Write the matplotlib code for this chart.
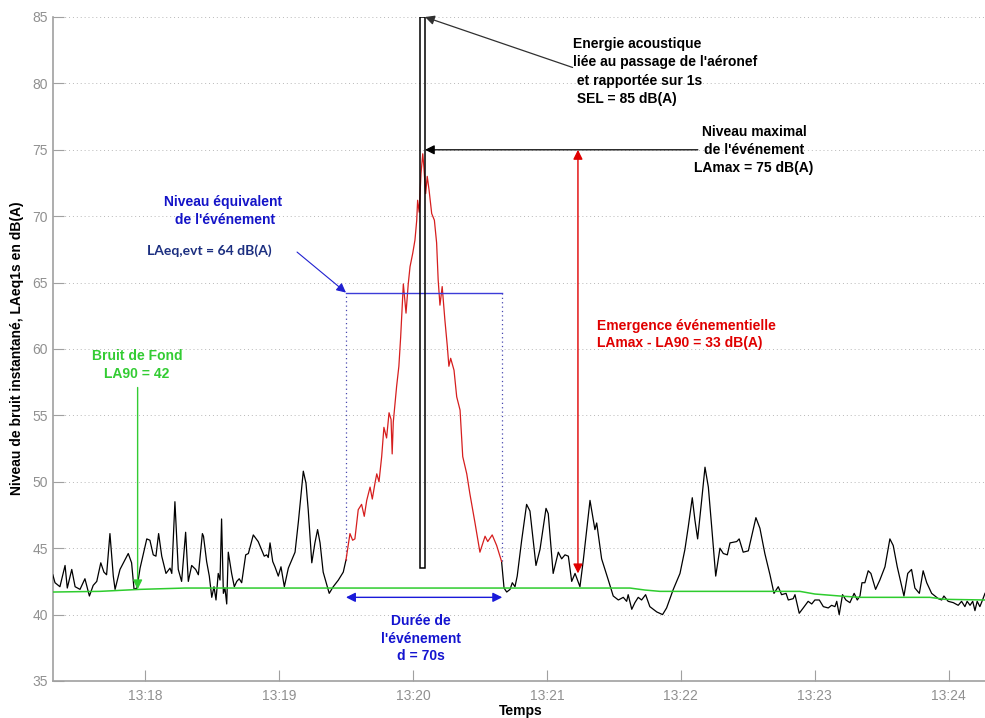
import matplotlib
matplotlib.use("Agg")
import matplotlib.pyplot as plt
from matplotlib.patches import Rectangle

# ---- DATA (time in s after 13:17:00, level in dB(A)) ----
t_pre = [18.7, 19.7, 21.9, 24.2, 25.2, 27.2, 28.7, 30.9, 33.1, 35.1, 36.8, 38.4, 40.2, 41.6,
         42.8, 44.3, 45.8, 46.6, 48.8, 52.5, 54.0, 55.1, 56.4, 57.8, 60.8, 62.2, 63.7, 64.9,
         66.1, 67.5, 69.4, 71.2, 72.0, 73.4, 74.9, 76.4, 78.2, 79.4, 80.9, 82.7, 83.9, 85.7,
         86.2, 87.6, 88.8, 89.9, 90.9, 91.8, 92.8, 93.6, 94.3, 95.1, 95.8, 96.6, 97.3, 98.8,
         100.0, 101.1, 102.2, 103.3, 105.1, 106.3, 108.5, 110.7, 113.4, 114.5, 115.2, 116.0,
         117.2, 118.2, 119.7, 120.9, 122.4, 124.2, 125.7, 127.2, 128.7, 130.9, 132.1, 133.1,
         134.7, 136.1, 137.3, 138.4, 139.8, 142.5, 144.3, 146.6, 148.8, 150.0]
la_pre = [43.0, 42.4, 42.1, 43.7, 42.0, 43.4, 42.1, 41.9, 42.7, 41.4, 42.2, 42.5, 43.9, 43.2,
          43.0, 46.1, 42.9, 41.9, 43.4, 44.6, 43.9, 41.9, 42.0, 43.5, 45.7, 45.6, 44.5, 44.4,
          46.1, 44.4, 43.1, 43.5, 43.1, 48.5, 43.4, 42.5, 46.2, 42.5, 43.7, 43.4, 43.0, 46.1,
          45.9, 44.0, 42.9, 41.3, 42.1, 41.1, 43.1, 42.6, 47.2, 41.6, 42.0, 40.8, 44.7, 43.1,
          42.1, 42.5, 42.7, 42.4, 44.5, 44.6, 46.0, 45.5, 44.4, 44.5, 44.3, 45.4,
          44.0, 43.6, 42.9, 43.6, 42.1, 43.5, 44.1, 44.7, 47.0, 50.8, 49.9, 47.9,
          43.9, 45.4, 46.4, 45.4, 43.2, 41.6, 42.1, 42.6, 43.2, 44.1]

t_evt = [150.0, 151.8, 153.0, 154.0, 155.5, 157.0, 158.2, 159.3, 160.8, 161.8, 163.0, 163.8,
         164.8, 166.0, 167.0, 168.2, 169.3, 170.2, 170.7, 171.2, 172.7, 173.7, 174.5, 175.7,
         176.9, 177.9, 178.7, 179.9, 180.9, 181.7, 182.1, 182.8, 183.6, 184.4, 184.9, 185.7,
         186.4, 187.2, 188.4, 189.6, 190.6, 191.3, 192.1, 193.1, 194.3, 195.4, 196.1, 196.9,
         198.4, 199.6, 201.1, 202.3, 204.1, 205.5, 207.8, 210.0, 212.3, 213.5, 215.5, 217.5,
         219.7]
la_evt = [44.1, 46.1, 45.6, 45.7, 47.9, 48.3, 47.4, 48.6, 49.6, 48.7, 49.9, 50.6,
          50.0, 51.9, 54.1, 53.3, 55.2, 54.7, 52.1, 54.5, 57.2, 58.7, 60.9, 64.9,
          62.7, 64.9, 66.2, 67.2, 68.2, 69.7, 71.2, 70.3, 73.2, 74.7, 73.7, 71.7,
          73.0, 72.0, 70.2, 69.7, 68.0, 65.2, 63.3, 64.7, 62.2, 60.2, 58.7, 59.3,
          58.4, 56.4, 55.4, 51.9, 50.6, 49.1, 46.9, 44.7, 45.9, 45.5, 46.0, 45.2,
          44.0]

t_post = [219.7, 220.8, 222.0, 223.5, 224.5, 225.7, 226.7, 228.7, 230.9, 232.4, 235.1, 236.9,
          239.6, 240.6, 242.8, 245.1, 246.6, 248.1, 249.6, 251.1, 252.6, 254.8, 256.3, 259.3,
          261.5, 262.3, 264.5, 267.5, 269.7, 272.0, 274.2, 275.7, 276.4, 278.0, 279.4, 280.9,
          282.4, 284.2, 286.1, 289.2, 291.8, 293.6, 296.6, 299.6, 301.8, 303.3, 305.1, 306.3,
          307.5, 309.3, 310.8, 312.3, 313.8, 315.6, 317.5, 319.0, 320.8, 322.0, 325.0, 326.1,
          327.9, 330.2, 333.6, 335.4, 337.6, 339.9, 341.7, 343.6, 345.1, 347.1, 348.1, 350.3,
          351.1, 353.0, 354.8, 357.0, 358.6, 360.0, 362.0, 363.8, 366.0, 367.5, 369.0, 369.8,
          370.9, 372.4, 373.9, 375.7, 377.6, 379.0, 380.2, 381.1, 382.4, 383.9, 385.1, 387.2,
          389.1, 391.4, 393.6, 395.1, 396.9, 399.9, 401.6, 403.3, 404.8, 406.8, 408.5, 410.1,
          412.3, 415.3, 416.8, 417.8, 419.7, 422.0, 424.2, 425.7, 427.2, 428.2, 429.5, 430.7,
          431.7, 432.7, 433.9, 435.1, 436.2]
la_post = [44.0, 42.0, 41.7, 41.9, 42.4, 42.1, 42.9, 45.6, 48.3, 47.8, 43.7, 44.9,
           48.0, 47.6, 43.1, 44.7, 44.2, 44.5, 44.4, 42.5, 43.1, 42.1, 44.1, 48.6,
           46.4, 46.9, 44.2, 42.6, 41.4, 41.1, 41.3, 41.0, 41.5, 40.4, 40.9, 41.3,
           41.1, 41.5, 40.6, 40.2, 40.0, 40.5, 41.9, 43.1, 44.9, 46.6, 48.8, 47.1,
           45.7, 48.6, 51.1, 49.6, 46.6, 42.9, 45.0, 44.6, 44.5, 45.4, 45.5, 45.7,
           44.7, 44.8, 47.3, 46.5, 44.6, 43.0, 41.6, 42.1, 41.5, 41.6, 41.1, 41.2,
           41.5, 40.1, 40.5, 41.0, 40.8, 41.1, 41.1, 40.6, 40.5, 40.7, 40.6, 41.0,
           40.0, 41.5, 41.1, 40.9, 41.6, 41.1, 41.4, 42.4, 42.4, 43.3, 43.1, 41.9,
           42.6, 43.6, 45.7, 45.2, 43.6, 41.4, 43.1, 43.4, 42.0, 41.6, 43.3, 42.4,
           41.6, 41.2, 41.1, 41.4, 41.0, 40.9, 40.7, 41.0, 40.6, 41.0, 40.7, 41.0,
           40.3, 41.0, 40.6, 41.1, 41.6]

t_la90 = [18.8, 39.8, 57.8, 77.9, 277.2, 283.9, 290.6, 353.3, 360.0, 371.2, 380.2, 411.5, 418.2, 436.2]
la90 = [41.7, 41.75, 41.9, 42.0, 42.0, 41.85, 41.75, 41.75, 41.55, 41.4, 41.3, 41.3, 41.15, 41.1]

evt_start, evt_end = 150.0, 220.0
laeq_evt = 64.2
lamax = 75.0
sel = 85.0
t_sel = 183.3          # start of the 1 s SEL bar
sel_bottom = 43.5

xticks = [60, 120, 180, 240, 300, 360, 420]
xtick_labels = ["13:18", "13:19", "13:20", "13:21", "13:22", "13:23", "13:24"]
yticks = [35, 40, 45, 50, 55, 60, 65, 70, 75, 80, 85]

# ---- PLOT ----
BOLD = ["Liberation Sans", "DejaVu Sans"]
NARROW = ["Liberation Sans Narrow", "Liberation Sans", "DejaVu Sans"]

fig = plt.figure(figsize=(9.85, 7.18), dpi=100)
ax = fig.add_axes([53 / 985, 37 / 718, 932 / 985, 664 / 718])

ax.set_xlim(18.8, 436.2)
ax.set_ylim(35, 85)

for v in yticks[1:]:
    ax.axhline(v, color="#b8b8b8", lw=0.7, ls=(0, (1, 3)), zorder=0)

ax.plot(t_pre, la_pre, color="black", lw=0.9, zorder=3)
ax.plot(t_post, la_post, color="black", lw=0.9, zorder=3)
ax.plot(t_evt, la_evt, color="#d61e1e", lw=0.9, zorder=3)
ax.plot(t_la90, la90, color="#2ecc2e", lw=1.1, zorder=4)

# LAeq of the event and its limits
ax.plot([evt_start, evt_end], [laeq_evt, laeq_evt], color="#3c3cd8", lw=1.0, zorder=4)
ax.plot([evt_start, evt_start], [la_evt[0], laeq_evt], color="#4848b0", lw=0.9,
        ls=(0, (1, 2.5)), zorder=2)
ax.plot([evt_end, evt_end], [la_evt[-1], laeq_evt], color="#4848b0", lw=0.9,
        ls=(0, (1, 2.5)), zorder=2)

# SEL bar (1 s)
ax.add_patch(Rectangle((t_sel, sel_bottom), 2.0, sel - sel_bottom, fill=False,
                       edgecolor="black", lw=1.1, zorder=5))


def arrow(tail, tip, color, style="-|>", lw=0.9, ms=14):
    ax.annotate("", xy=tip, xytext=tail,
                arrowprops=dict(arrowstyle=style, color=color, lw=lw, mutation_scale=ms,
                                shrinkA=0, shrinkB=0), zorder=6)


# SEL
ax.text(251.7, 80.9, "Energie acoustique\nliée au passage de l'aéronef\n et rapportée sur 1s\n SEL = 85 dB(A)",
        ha="left", va="center", fontsize=10, fontweight="bold", family=BOLD,
        linespacing=1.38, color="black")
arrow((251.5, 81.2), (185.4, 85.0), "#303030")

# LAmax
ax.text(332.7, 75.0, "Niveau maximal\nde l'événement\nLAmax = 75 dB(A)",
        ha="center", va="center", fontsize=10, fontweight="bold", family=BOLD,
        linespacing=1.38, color="black")
arrow((307.6, lamax), (185.4, lamax), "black")

# LAeq
ax.text(94.9, 70.4, "Niveau équivalent\n de l'événement", ha="center", va="center",
        fontsize=10, fontweight="bold", family=BOLD, linespacing=1.3, color="#1414c8")
ax.text(88.9, 67.4, "LAeq,evt = 64 dB(A)", ha="center", va="center",
        fontsize=10, fontweight="bold", family=["Lato", "DejaVu Sans"], color="#1c2f80")
arrow((128.1, 67.3), (evt_start, laeq_evt + 0.05), "#2020d0", lw=0.8)

# LA90
ax.text(56.4, 58.8, "Bruit de Fond\nLA90 = 42", ha="center", va="center",
        fontsize=10, fontweight="bold", family=BOLD, linespacing=1.3, color="#33cc33")
arrow((56.7, 57.1), (56.7, 41.9), "#33cc33", lw=1.0)

# Emergence
ax.text(262.4, 61.1, "Emergence événementielle\nLAmax - LA90 = 33 dB(A)", ha="left", va="center",
        fontsize=10, fontweight="bold", family=BOLD, linespacing=1.3, color="#e00000")
arrow((253.9, 43.1), (253.9, lamax), "#e00000", style="<|-|>", lw=1.0)

# Durée
arrow((evt_start, 41.3), (evt_end, 41.3), "#1a1ad9", style="<|-|>", lw=1.0)
ax.text(183.4, 38.2, "Durée de\nl'événement\nd = 70s", ha="center", va="center",
        fontsize=10, fontweight="bold", family=NARROW, linespacing=1.32, color="#1414d0")

# axes style
ax.set_xticks(xticks)
ax.set_xticklabels(xtick_labels)
ax.set_yticks(yticks)
ax.tick_params(axis="both", direction="in", color="#a0a0a0", labelcolor="#909090",
               length=8, width=0.8)
ax.tick_params(axis="x", pad=6)
for lab in ax.get_xticklabels() + ax.get_yticklabels():
    lab.set_family(NARROW)
    lab.set_fontsize(10)
for s in ["top", "right"]:
    ax.spines[s].set_visible(False)
for s in ["left", "bottom"]:
    ax.spines[s].set_color("#a0a0a0")
    ax.spines[s].set_linewidth(1.2)

fig.text(521 / 985, 1 - 711 / 718, "Temps", ha="center", va="center",
         fontsize=10, fontweight="bold", family=NARROW)
fig.text(17 / 985, 1 - 348 / 718, "Niveau de bruit instantané, LAeq1s en dB(A)",
         ha="center", va="center", rotation=90, fontsize=10, fontweight="bold", family=BOLD)

fig.savefig("out.png", dpi=100)
